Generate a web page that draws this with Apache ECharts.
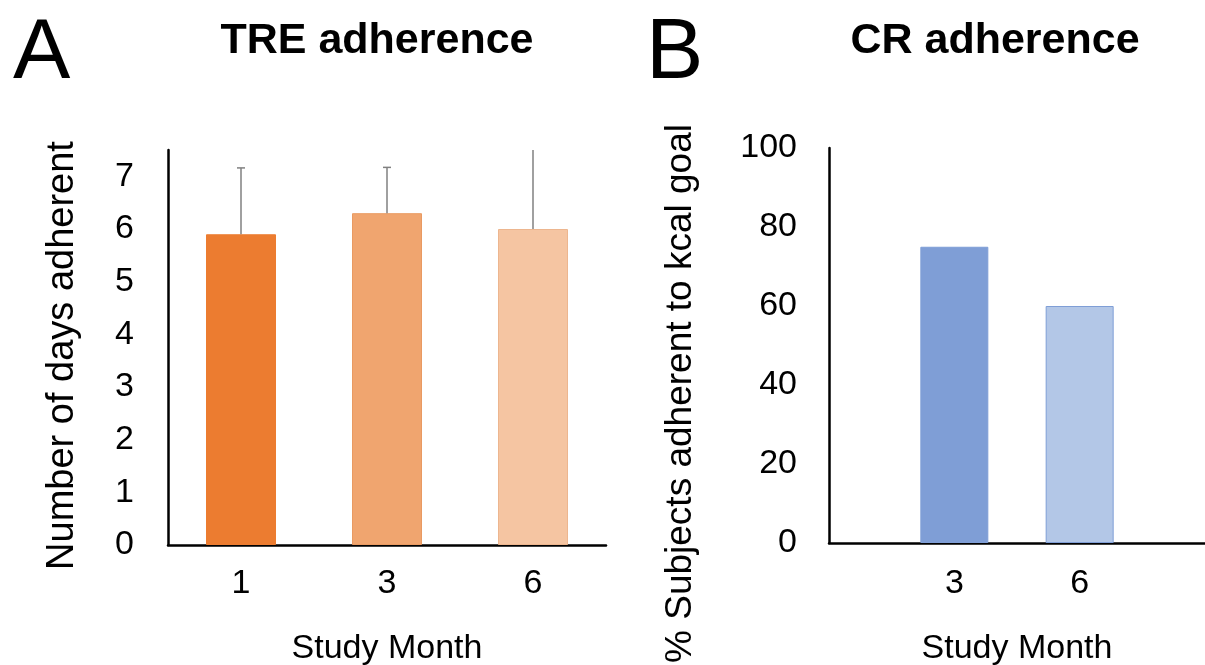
<!DOCTYPE html>
<html>
<head>
<meta charset="utf-8">
<script src="https://cdn.jsdelivr.net/npm/echarts@6/dist/echarts.min.js"></script>
<style>
html,body{margin:0;padding:0;background:#fff;}
#chart{width:1205px;height:665px;}
</style>
</head>
<body>
<div id="chart"></div>
<script>
// ---- Data ----
const treMonths = ['1', '3', '6'];
const treDays = [5.9, 6.3, 6.0];
const treSD = [1.26, 0.87, 1.6];
const treYTicks = [0, 1, 2, 3, 4, 5, 6, 7];

const crMonths = ['', '3', '6', ''];
const crPercent = [null, 75, 60, null];
const crYTicks = [0, 20, 40, 60, 80, 100];

const treColors = ['#EC7C30', '#F0A56F', '#F5C5A2'];
const treBorders = ['#EC7C30', '#E99A62', '#EDB68F'];
const crColors = [null, '#7F9ED6', '#B3C7E7', null];
const crBorders = [null, '#7F9ED6', '#7F9ED6', null];

const FONT = '"Liberation Sans", Arial, sans-serif';

const chart = echarts.init(document.getElementById('chart'), null, {renderer: 'canvas'});

const axisLineStyle = {color: '#000', width: 2.5};

const option = {
  backgroundColor: '#fff',
  animation: false,
  textStyle: {fontFamily: FONT},
  title: [
    {text: 'A', left: 8, top: 6, textStyle: {fontFamily: FONT, fontSize: 86, fontWeight: 'normal', color: '#000'}},
    {text: 'TRE adherence', left: 372, top: 15, textAlign: 'center', textStyle: {fontFamily: FONT, fontSize: 43, fontWeight: 'bold', color: '#000'}},
    {text: 'B', left: 641, top: 6, textStyle: {fontFamily: FONT, fontSize: 86, fontWeight: 'normal', color: '#000'}},
    {text: 'CR adherence', left: 990, top: 15, textAlign: 'center', textStyle: {fontFamily: FONT, fontSize: 43, fontWeight: 'bold', color: '#000'}}
  ],
  grid: [
    {left: 168, top: 150, width: 438, height: 395, containLabel: false, outerBoundsMode: 'none'},
    {left: 829, top: 148, width: 376, height: 395, containLabel: false, outerBoundsMode: 'none'}
  ],
  xAxis: [
    {
      type: 'category', gridIndex: 0, data: treMonths, boundaryGap: true,
      axisLine: {lineStyle: axisLineStyle}, axisTick: {show: false},
      axisLabel: {color: '#000', fontSize: 34, fontFamily: FONT, margin: 22},
      name: 'Study Month', nameLocation: 'middle', nameGap: 87,
      nameTextStyle: {color: '#000', fontSize: 34, fontFamily: FONT}
    },
    {
      type: 'category', gridIndex: 1, data: crMonths, boundaryGap: false,
      axisLine: {lineStyle: axisLineStyle}, axisTick: {show: false},
      axisLabel: {color: '#000', fontSize: 34, fontFamily: FONT, margin: 24, interval: 0},
      name: 'Study Month', nameLocation: 'middle', nameGap: 89,
      nameTextStyle: {color: '#000', fontSize: 34, fontFamily: FONT}
    }
  ],
  yAxis: [
    {
      type: 'value', gridIndex: 0, min: 0, max: 7.5, interval: 1,
      axisLine: {show: true, lineStyle: axisLineStyle}, axisTick: {show: false},
      splitLine: {show: false},
      axisLabel: {color: '#000', fontSize: 34, fontFamily: FONT, margin: 34,
        formatter: v => treYTicks.includes(v) ? String(v) : ''},
      name: 'Number of days adherent', nameLocation: 'middle', nameGap: 86, nameRotate: 90,
      nameTextStyle: {color: '#000', fontSize: 38, fontFamily: FONT, padding: [0, 16, 0, 0]}
    },
    {
      type: 'value', gridIndex: 1, min: 0, max: 100, interval: 20,
      axisLine: {show: true, lineStyle: axisLineStyle}, axisTick: {show: false},
      splitLine: {show: false},
      axisLabel: {color: '#000', fontSize: 34, fontFamily: FONT, margin: 32,
        formatter: v => crYTicks.includes(v) ? String(v) : ''},
      name: '% Subjects adherent to kcal goal', nameLocation: 'middle', nameGap: 130, nameRotate: 90,
      nameTextStyle: {color: '#000', fontSize: 37, fontFamily: FONT, padding: [0, 96, 0, 0]}
    }
  ],
  series: [
    {
      type: 'bar', xAxisIndex: 0, yAxisIndex: 0, barWidth: 70,
      data: treDays.map((v, i) => ({
        value: v,
        itemStyle: {color: treColors[i], borderColor: treBorders[i], borderWidth: 1}
      }))
    },
    {
      type: 'custom', xAxisIndex: 0, yAxisIndex: 0, clip: true, z: 3,
      data: treDays.map((v, i) => [i, v, v + treSD[i]]),
      renderItem: function (params, api) {
        const base = api.coord([api.value(0), api.value(1)]);
        const top = api.coord([api.value(0), api.value(2)]);
        const style = {stroke: '#808080', lineWidth: 1.5};
        return {
          type: 'group',
          children: [
            {type: 'line', shape: {x1: base[0], y1: base[1], x2: top[0], y2: top[1]}, style: style},
            {type: 'line', shape: {x1: top[0] - 4, y1: top[1], x2: top[0] + 4, y2: top[1]}, style: style}
          ]
        };
      }
    },
    {
      type: 'bar', xAxisIndex: 1, yAxisIndex: 1, barWidth: 68,
      data: crPercent.map((v, i) => v == null ? '-' : ({
        value: v,
        itemStyle: {color: crColors[i], borderColor: crBorders[i], borderWidth: 1}
      }))
    }
  ]
};
chart.setOption(option);
</script>
</body>
</html>
